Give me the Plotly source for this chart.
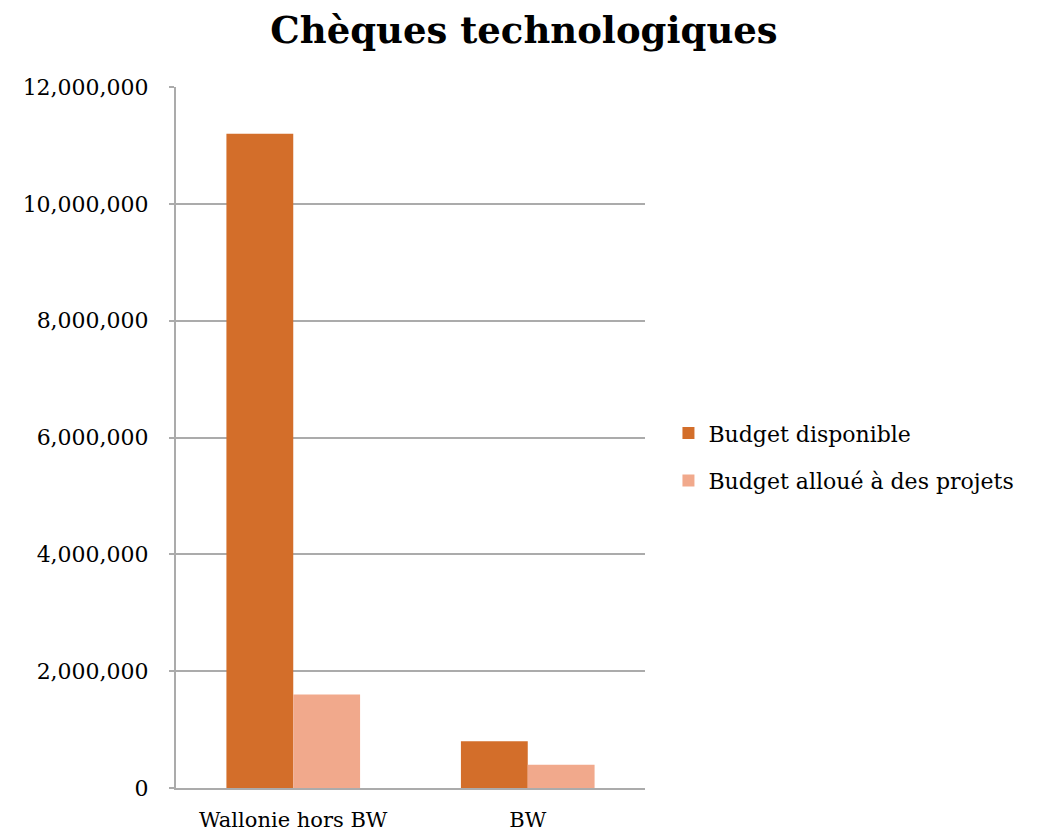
import plotly.graph_objects as go

categories = ["Wallonie hors BW", "BW"]
budget_disponible = [11200000, 800000]
budget_alloue = [1600000, 400000]
series_names = ["Budget disponible", "Budget alloué à des projets"]
tick_vals = [0, 2000000, 4000000, 6000000, 8000000, 10000000, 12000000]
tick_text = ["0", "2,000,000", "4,000,000", "6,000,000", "8,000,000", "10,000,000", "12,000,000"]

FONT = "DejaVu Serif"

fig = go.Figure()
fig.add_trace(go.Bar(x=categories, y=budget_disponible, name=series_names[0],
                     legendgroup="a",
                     marker=dict(color="#D36E2A", line=dict(width=0))))
fig.add_trace(go.Bar(x=categories, y=budget_alloue, name=series_names[1],
                     legendgroup="b",
                     marker=dict(color="#F1A98C", line=dict(width=0))))

# the page body adds an 8px offset on the left and top
fig.update_layout(
    width=1032, height=826,
    paper_bgcolor="white", plot_bgcolor="white",
    margin=dict(l=168, r=395, t=79, b=46),
    barmode="group", bargap=0.43, bargroupgap=0,
    title=dict(text="<b>Chèques technologiques</b>", x=0.5, xanchor="center",
               xref="container",
               y=0.973, yanchor="middle",
               font=dict(family=FONT, size=37, color="black")),
    font=dict(family=FONT, size=22, color="black"),
    legend=dict(x=1.050, xanchor="left", y=0.472, yanchor="middle",
                font=dict(family=FONT, size=22, color="black"),
                itemwidth=30, tracegroupgap=16, traceorder="grouped",
                bgcolor="rgba(0,0,0,0)"),
    showlegend=True,
)
fig.update_xaxes(showline=True, linecolor="#ABABAB", linewidth=2,
                 ticks="", ticklabelstandoff=12, automargin=False,
                 tickfont=dict(family=FONT, size=21, color="black"),
                 showgrid=False)
fig.update_yaxes(range=[0, 12000000], tickvals=tick_vals, ticktext=tick_text,
                 showline=True, linecolor="#ABABAB", linewidth=2,
                 ticks="outside", ticklen=5, tickcolor="#ABABAB", tickwidth=2,
                 ticklabelstandoff=16, automargin=False,
                 showgrid=True, gridcolor="#ABABAB", gridwidth=1.5,
                 zeroline=False,
                 tickfont=dict(family=FONT, size=22, color="black"))

fig.write_html("out.html")
